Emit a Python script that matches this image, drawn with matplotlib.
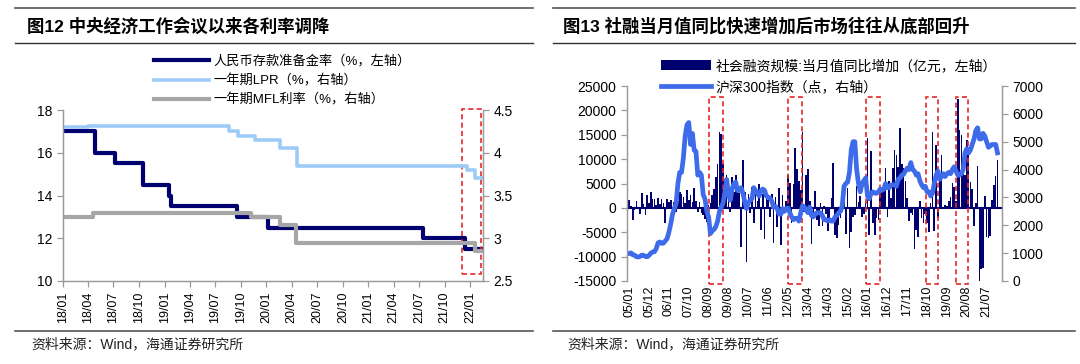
import numpy as np
import pandas as pd
import matplotlib
matplotlib.use("Agg")
import matplotlib.pyplot as plt
from matplotlib.patches import Rectangle
from matplotlib.lines import Line2D

plt.rcParams["font.family"] = ["Liberation Sans", "Noto Sans CJK SC"]
plt.rcParams["axes.unicode_minus"] = False

# ---------------- 图12 数据（阶梯）----------------
RRR_DATES = ["2018-01-01", "2018-04-25", "2018-07-05", "2018-10-15", "2019-01-15",
             "2019-01-25", "2019-09-16", "2020-01-06", "2021-07-15", "2021-12-15"]
RRR = [17, 16, 15.5, 14.5, 14, 13.5, 13, 12.5, 12, 11.5]
LPR_DATES = ["2018-01-01", "2018-04-01", "2019-08-20", "2019-09-20", "2019-11-20",
             "2020-02-20", "2020-04-20", "2021-12-20", "2022-01-20"]
LPR = [4.30, 4.31, 4.25, 4.20, 4.15, 4.05, 3.85, 3.80, 3.70]
MLF_DATES = ["2018-01-01", "2018-04-17", "2019-11-05", "2020-02-17", "2020-04-15", "2022-01-17"]
MLF = [3.25, 3.30, 3.25, 3.15, 2.95, 2.85]
END_DATE = "2022-02-16"
BOX_L = ("2021-12-01", "2022-02-10")

# ---------------- 图13 数据（月度，2005/01 起）----------------
TSF_YOY = [
    1600, 300, -2400, -500, 1400, -300, -1200, 3000, 800, -1500, 2600, 1000,          # 2005
    3300, 1800, 1900, 600, 2100, 800, 1900, 1000, -3000, 1800, 1200, 1600,            # 2006
    -1200, 1200, -800, 1500, 3300, 2900, 2300, 1000, 3600, 1600, 2600, 1200,          # 2007
    4100, 1500, -800, 1200, -1000, -1500, -2200, -2900, 500, 1000, 2600, 3900,        # 2008
    6400, 9100, 15600, 15200, 9100, 6000, 6700, 3300, -800, 6400, 3300, 6700,         # 2009
    3300, 3000, -8000, 9800, 3300, -11000, 2900, -1000, 4300, -3200, 3300, 1500,      # 2010
    5000, -4600, 2900, -6300, 3300, 1600, -1800, 2900, -7300, 2300, -3900, 4000,      # 2011
    -7700, 2600, -1000, 1500, 6700, 5200, -3200, 5000, 12200, 8000, 5600, 3600,       # 2012
    15600, -800, 6700, 8000, 1500, -7400, -2200, 3400, -2400, -3800, 900, -3800,      # 2013
    400, -1300, -4800, -2000, 2100, 9300, -5500, -6200, -3600, -2000, -800, 4400,     # 2014
    -5300, 4100, -8300, -5000, -1800, -1400, 4500, 1200, 2500, -1900, -1300, 1300,    # 2015
    14400, -5600, 11700, -3000, -5600, -2000, -2400, 3900, 4200, 4200, 8100, -1900,   # 2016
    5500, 2000, 8100, 11800, 10800, 8400, 16400, 9000, 8200, 5600, 2000, -2700,       # 2017
    -1000, -1500, -8400, -4600, -6000, 1500, -2000, -3000, -1200, -3200, -5000, 1000, # 2018
    15600, -4700, 12800, -2000, 6400, 10800, -300, 500, 400, 1500, 2300, 5100,        # 2019
    4300, 1500, 22300, 15900, 15000, 10100, 6800, 13900, 12300, 5400, 3800, -3800,    # 2020
    1000, 8500, -15300, -12500, -12400, 2400, -6000, -6200, -5800, 1700, 4700, 6500,  # 2021
    9800,                                                                             # 2022/01
]
HS300 = [
    990, 1010, 940, 930, 870, 860, 880, 930, 920, 880, 870, 920,
    1000, 1040, 1050, 1160, 1370, 1400, 1350, 1360, 1440, 1520, 1750, 2040,
    2400, 2600, 2780, 3500, 3900, 3900, 4400, 5200, 5600, 5690, 4900, 5300,
    4700, 4650, 3800, 3900, 3800, 3100, 2950, 2500, 2300, 1700, 1800, 1850,
    1950, 2150, 2500, 2650, 2800, 3150, 3650, 3100, 2900, 3300, 3500, 3550,
    3250, 3250, 3350, 3150, 2850, 2600, 2800, 2900, 2950, 3350, 3250, 3150,
    3050, 3250, 3300, 3250, 3050, 3000, 2980, 2870, 2650, 2680, 2600, 2400,
    2400, 2600, 2500, 2600, 2620, 2450, 2300, 2200, 2250, 2250, 2150, 2450,
    2700, 2650, 2550, 2450, 2650, 2350, 2300, 2400, 2450, 2450, 2450, 2350,
    2200, 2200, 2150, 2200, 2150, 2150, 2300, 2350, 2450, 2500, 2700, 3400,
    3500, 3550, 3900, 4700, 5000, 5000, 4000, 3500, 3200, 3500, 3600, 3700,
    3050, 2950, 3150, 3200, 3150, 3150, 3200, 3300, 3250, 3300, 3500, 3350,
    3350, 3450, 3450, 3450, 3400, 3650, 3700, 3800, 3830, 3950, 4050, 4000,
    4250, 4000, 3950, 3800, 3850, 3600, 3450, 3350, 3400, 3200, 3200, 3050,
    3150, 3500, 3800, 3950, 3650, 3750, 3850, 3750, 3850, 3900, 3850, 4000,
    4100, 3950, 3800, 3800, 3850, 4000, 4600, 4750, 4600, 4700, 4900, 5100,
    5400, 5500, 5100, 5100, 5300, 5200, 5000, 4800, 4850, 4900, 4900, 4900,
    4600,
]
START_MONTH = "2005-01"
BOXES_R = [("2008-09", "2009-04"), ("2012-05", "2012-12"), ("2015-12", "2016-07"),
           ("2018-09", "2019-03"), ("2020-02", "2020-08")]

NAVY = "#00006E"
AXC = "#9A9A9A"
FW, FH = 1080, 364


def fx(px):
    return px / FW


def fy(py):
    return 1 - py / FH


def style_axes(ax, ax2):
    for a in (ax, ax2):
        a.spines["top"].set_visible(False)
        for s in ("left", "right", "bottom"):
            a.spines[s].set_color(AXC)
            a.spines[s].set_linewidth(0.9)
        a.tick_params(colors=AXC, labelcolor="black", length=4, width=0.9, labelsize=10)
    ax.tick_params(axis="x", labelsize=9, labelrotation=90)


fig = plt.figure(figsize=(10.8, 3.64), dpi=100)

# ---- 标题与分隔线
for x0, x1, tx, title in [(15, 533, 27, "图12 中央经济工作会议以来各利率调降"),
                          (553, 1075, 563, "图13 社融当月值同比快速增加后市场往往从底部回升")]:
    fig.add_artist(Line2D([fx(x0), fx(x1)], [fy(8), fy(8)], color="#555555", lw=1.2))
    fig.add_artist(Line2D([fx(x0), fx(x1)], [fy(43), fy(43)], color="#333333", lw=1.0))
    fig.add_artist(Line2D([fx(x0), fx(x1)], [fy(331), fy(331)], color="#555555", lw=1.2))
    fig.text(fx(tx), fy(26), title, fontsize=12.5, fontweight="bold", va="center", ha="left")
    fig.text(fx(tx + 4), fy(344), "资料来源：Wind，海通证券研究所", fontsize=10,
             va="center", ha="left", color="#222222")

# ---------------- 图12 ----------------
axL = fig.add_axes([fx(63), fy(281), fx(420), 171 / FH])
axL2 = axL.twinx()
end = pd.Timestamp(END_DATE)


def steps(dates, vals):
    d = list(pd.to_datetime(dates)) + [end]
    return d, list(vals) + [vals[-1]]


d, v = steps(RRR_DATES, RRR)
h1, = axL.plot(d, v, drawstyle="steps-post", color=NAVY, lw=3.0,
               label="人民币存款准备金率（%，左轴）")
d, v = steps(LPR_DATES, LPR)
h2, = axL2.plot(d, v, drawstyle="steps-post", color="#9DCBF7", lw=2.6,
                label="一年期LPR（%，右轴）")
d, v = steps(MLF_DATES, MLF)
h3, = axL2.plot(d, v, drawstyle="steps-post", color="#A6A6A6", lw=3.0,
                label="一年期MFL利率（%，右轴）")

axL.set_xlim(pd.Timestamp("2018-01-01"), end)
axL.set_ylim(10, 18)
axL2.set_ylim(2.5, 4.5)
axL.set_yticks([10, 12, 14, 16, 18])
axL2.set_yticks([2.5, 3, 3.5, 4, 4.5])
axL2.set_yticklabels(["2.5", "3", "3.5", "4", "4.5"])
qt = pd.date_range("2018-01-01", "2022-01-01", freq="QS")
axL.set_xticks(qt)
axL.set_xticklabels([t.strftime("%y/%m") for t in qt])
style_axes(axL, axL2)

x0, x1 = pd.to_datetime(BOX_L)
axL.add_patch(Rectangle((x0, 10.33), x1 - x0, 7.7, fill=False, ec="#E8262A",
                        ls=(0, (3, 2)), lw=1.2, clip_on=False, zorder=5))

fig.legend(handles=[h1, h2, h3], loc="upper left", bbox_to_anchor=(fx(154), fy(55)),
           frameon=False, fontsize=9.5, handlelength=4.2, handletextpad=0.3,
           labelspacing=0.48, borderpad=0, borderaxespad=0)

# ---------------- 图13 ----------------
axR = fig.add_axes([fx(627), fy(281), fx(375), 195 / FH])
axR2 = axR.twinx()
idx = np.arange(len(TSF_YOY))
months = pd.period_range(START_MONTH, periods=len(TSF_YOY), freq="M")

b = axR.bar(idx, TSF_YOY, width=0.9, color=NAVY, lw=0,
            label="社会融资规模:当月值同比增加（亿元，左轴）")
axR.axhline(0, color=NAVY, lw=1.5, zorder=3)
l, = axR2.plot(idx, HS300, color="#3D6BEA", lw=3.4, label="沪深300指数（点，右轴）")

axR.set_xlim(-1.2, 206.5)
axR.set_ylim(-15000, 25000)
axR2.set_ylim(0, 7000)
axR.set_yticks(range(-15000, 25001, 5000))
axR2.set_yticks(range(0, 7001, 1000))
axR.set_xticks(idx[::11])
axR.set_xticklabels([m.strftime("%y/%m") for m in months[::11]])
style_axes(axR, axR2)
axR.spines["bottom"].set_visible(False)
axR2.spines["bottom"].set_visible(False)
axR.tick_params(axis="x", length=0)

for s, e in BOXES_R:
    i0 = months.get_loc(pd.Period(s, freq="M"))
    i1 = months.get_loc(pd.Period(e, freq="M"))
    axR.add_patch(Rectangle((i0 + 0.2, -15600), i1 - i0 + 0.6, 38300, fill=False,
                            ec="#E8262A", ls=(0, (3, 2)), lw=1.2, clip_on=False, zorder=5))

fig.legend(handles=[b, l], loc="upper left", bbox_to_anchor=(fx(661), fy(59)),
           frameon=False, fontsize=10, handlelength=3.6, handleheight=0.8,
           handletextpad=0.3, labelspacing=0.5, borderpad=0, borderaxespad=0)

fig.savefig("out.png", dpi=100)
